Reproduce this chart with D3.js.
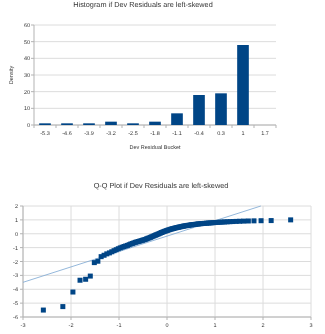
<!DOCTYPE html>
<html><head><meta charset="utf-8">
<script src="https://cdn.jsdelivr.net/npm/d3@7"></script>
<style>
html,body{margin:0;padding:0;background:#fff;}
#wrap{will-change:transform;width:325px;height:334px;}
svg text{font-family:"Liberation Sans",Arial,sans-serif;fill:#333;fill-opacity:0.99;text-rendering:geometricPrecision;-webkit-font-smoothing:antialiased;}
</style></head>
<body>
<div id="wrap"><svg id="c" width="325" height="334"></svg></div>
<script>
// Histogram data
const histTitle = "Histogram if Dev Residuals are left-skewed";
const buckets = ["-5.3","-4.6","-3.9","-3.2","-2.5","-1.8","-1.1","-0.4","0.3","1","1.7"];
const counts  = [1,1,1,2,1,2,7,18,19,48,0];
const histYTicks = [0,10,20,30,40,50,60];

// Q-Q data
const qqTitle = "Q-Q Plot if Dev Residuals are left-skewed";
const theoretical = [-2.576,-2.170,-1.960,-1.812,-1.695,-1.598,-1.514,-1.440,-1.372,-1.311,
 -1.254,-1.200,-1.150,-1.103,-1.058,-1.015,-0.974,-0.935,-0.896,-0.860,
 -0.824,-0.789,-0.755,-0.722,-0.690,-0.659,-0.628,-0.598,-0.568,-0.539,
 -0.510,-0.482,-0.454,-0.426,-0.399,-0.372,-0.345,-0.319,-0.292,-0.266,
 -0.240,-0.215,-0.189,-0.164,-0.138,-0.113,-0.088,-0.063,-0.038,-0.013,
 0.013,0.038,0.063,0.088,0.113,0.138,0.164,0.189,0.215,0.240,
 0.266,0.292,0.319,0.345,0.372,0.399,0.426,0.454,0.482,0.510,
 0.539,0.568,0.598,0.628,0.659,0.690,0.722,0.755,0.789,0.824,
 0.860,0.896,0.935,0.974,1.015,1.058,1.103,1.150,1.200,1.254,
 1.311,1.372,1.440,1.514,1.598,1.695,1.812,1.960,2.170,2.576];
const residuals = [-5.5,-5.25,-4.2,-3.35,-3.28,-3.05,-2.08,-1.98,-1.65,-1.55,
 -1.45,-1.38,-1.3,-1.22,-1.15,-1.08,-1.02,-0.97,-0.92,-0.88,
 -0.84,-0.79,-0.74,-0.7,-0.66,-0.62,-0.59,-0.56,-0.53,-0.5,
 -0.47,-0.44,-0.41,-0.37,-0.33,-0.3,-0.26,-0.22,-0.18,-0.14,
 -0.1,-0.07,-0.03,0.01,0.05,0.09,0.12,0.16,0.19,0.22,
 0.25,0.28,0.31,0.34,0.36,0.38,0.41,0.43,0.45,0.47,
 0.49,0.51,0.53,0.55,0.57,0.58,0.6,0.61,0.63,0.64,
 0.66,0.67,0.68,0.7,0.71,0.72,0.73,0.74,0.75,0.76,
 0.77,0.78,0.79,0.8,0.81,0.82,0.83,0.84,0.85,0.86,
 0.87,0.88,0.89,0.9,0.91,0.92,0.93,0.94,0.95,1.0];
const qqXTicks = [-3,-2,-1,0,1,2,3];
const qqYTicks = [2,1,0,-1,-2,-3,-4,-5,-6];
const trendSlope = 1.11, trendIntercept = -0.17;

const BLUE = "#004586", GRID = "#dcdcdc", AXIS = "#b3b3b3";
const svg = d3.select("#c");

// ---------- Histogram ----------
{
  const L = 34, R = 276, T = 25, B = 125;
  const x = d3.scaleBand().domain(buckets).range([L, R]).paddingInner(0.47).paddingOuter(0.235);
  const xb = d3.scaleBand().domain(buckets).range([L, R]);
  const y = d3.scaleLinear().domain([0, 60]).range([B, T]);
  const g = svg.append("g");
  g.append("text").attr("x", 143).attr("y", 7).attr("text-anchor", "middle")
    .style("font-size", "7.3px").text(histTitle);
  g.selectAll("line.grid").data(histYTicks).join("line")
    .attr("x1", L).attr("x2", R).attr("y1", d => y(d)).attr("y2", d => y(d))
    .attr("stroke", GRID).attr("stroke-width", 1);
  g.append("line").attr("x1", L).attr("x2", L).attr("y1", T).attr("y2", B).attr("stroke", AXIS);
  g.append("line").attr("x1", L).attr("x2", R).attr("y1", B).attr("y2", B).attr("stroke", AXIS);
  g.selectAll("line.yt").data(histYTicks).join("line")
    .attr("x1", L - 3).attr("x2", L).attr("y1", d => y(d)).attr("y2", d => y(d)).attr("stroke", AXIS);
  g.selectAll("text.yl").data(histYTicks).join("text")
    .attr("x", L - 4).attr("y", d => y(d) + 2).attr("text-anchor", "end")
    .style("font-size", "5.5px").text(d => d);
  const bounds = buckets.map(b => xb(b)).concat([R]);
  g.selectAll("line.xt").data(bounds).join("line")
    .attr("x1", d => d).attr("x2", d => d).attr("y1", B).attr("y2", B + 3).attr("stroke", AXIS);
  g.selectAll("text.xl").data(buckets).join("text")
    .attr("x", d => xb(d) + xb.bandwidth() / 2).attr("y", B + 10).attr("text-anchor", "middle")
    .style("font-size", "5.5px").text(d => d);
  g.selectAll("rect").data(buckets).join("rect")
    .attr("x", d => x(d)).attr("width", x.bandwidth())
    .attr("y", (d, i) => y(counts[i])).attr("height", (d, i) => B - y(counts[i]))
    .attr("fill", BLUE);
  g.append("text").attr("x", (L + R) / 2).attr("y", 149).attr("text-anchor", "middle")
    .style("font-size", "5.5px").text("Dev Residual Bucket");
  g.append("text").attr("transform", `translate(13,${(T + B) / 2}) rotate(-90)`)
    .attr("text-anchor", "middle").style("font-size", "5.5px").text("Density");
}

// ---------- Q-Q plot ----------
{
  const L = 23, R = 311, T = 206, B = 317;
  const x = d3.scaleLinear().domain([-3, 3]).range([L, R]);
  const y = d3.scaleLinear().domain([-6, 2]).range([B, T]);
  const g = svg.append("g");
  g.append("text").attr("x", 161).attr("y", 188).attr("text-anchor", "middle")
    .style("font-size", "7.3px").text(qqTitle);
  g.selectAll("line.hg").data(qqYTicks).join("line")
    .attr("x1", L).attr("x2", R).attr("y1", d => y(d)).attr("y2", d => y(d)).attr("stroke", GRID);
  g.selectAll("line.vg").data(qqXTicks).join("line")
    .attr("x1", d => x(d)).attr("x2", d => x(d)).attr("y1", T).attr("y2", B).attr("stroke", GRID);
  g.append("line").attr("x1", L).attr("x2", L).attr("y1", T).attr("y2", B).attr("stroke", AXIS);
  g.append("line").attr("x1", L).attr("x2", R).attr("y1", B).attr("y2", B).attr("stroke", AXIS);
  g.selectAll("line.yt").data(qqYTicks).join("line")
    .attr("x1", L - 3).attr("x2", L).attr("y1", d => y(d)).attr("y2", d => y(d)).attr("stroke", AXIS);
  g.selectAll("line.xt").data(qqXTicks).join("line")
    .attr("x1", d => x(d)).attr("x2", d => x(d)).attr("y1", B).attr("y2", B + 3).attr("stroke", AXIS);
  g.selectAll("text.yl").data(qqYTicks).join("text")
    .attr("x", L - 5).attr("y", d => y(d) + 2).attr("text-anchor", "end")
    .style("font-size", "5.5px").text(d => d);
  g.selectAll("text.xl").data(qqXTicks).join("text")
    .attr("x", d => x(d)).attr("y", B + 10).attr("text-anchor", "middle")
    .style("font-size", "5.5px").text(d => d);
  const x0 = -3, x1 = (2 - trendIntercept) / trendSlope;
  g.append("line")
    .attr("x1", x(x0)).attr("y1", y(trendSlope * x0 + trendIntercept))
    .attr("x2", x(x1)).attr("y2", y(trendSlope * x1 + trendIntercept))
    .attr("stroke", "#7aa6d2").attr("stroke-width", 0.8);
  const s = 5;
  g.selectAll("rect.pt").data(residuals).join("rect")
    .attr("x", (d, i) => x(theoretical[i]) - s / 2).attr("y", d => y(d) - s / 2)
    .attr("width", s).attr("height", s).attr("fill", BLUE);
}
</script>
</body></html>
